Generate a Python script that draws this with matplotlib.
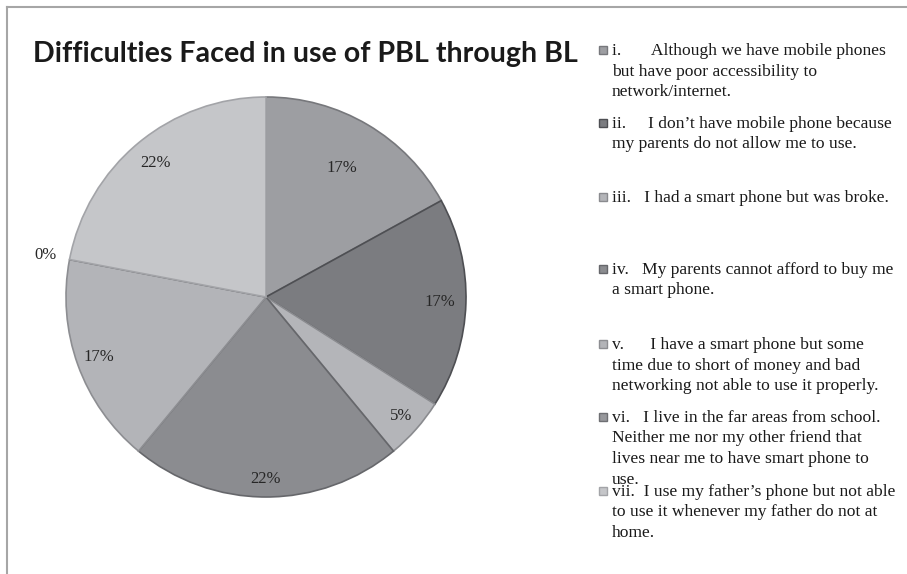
import numpy as np
import matplotlib
matplotlib.use('Agg')
import matplotlib.pyplot as plt
from matplotlib.patches import Rectangle
from matplotlib.lines import Line2D

title = 'Difficulties Faced in use of PBL through BL'

categories = [
    'i.       Although we have mobile phones\nbut have poor accessibility to\nnetwork/internet.',
    'ii.     I don\u2019t have mobile phone because\nmy parents do not allow me to use.',
    'iii.   I had a smart phone but was broke.',
    'iv.   My parents cannot afford to buy me\na smart phone.',
    'v.      I have a smart phone but some\ntime due to short of money and bad\nnetworking not able to use it properly.',
    'vi.   I live in the far areas from school.\nNeither me nor my other friend that\nlives near me to have smart phone to\nuse.',
    'vii.  I use my father\u2019s phone but not able\nto use it whenever my father do not at\nhome.',
]
values = [17, 17, 5, 22, 17, 0, 22]

colors = ['#9d9ea2', '#7b7c80', '#b4b5b9', '#8b8c90', '#b3b4b8', '#97989c', '#c5c6c9']
edges = ['#77787c', '#4e4f53', '#8a8b8f', '#66676b', '#8d8e92', '#6e6f73', '#a3a4a8']
label_r = [0.75, 0.87, 0.90, 0.91, 0.89, 1.12, 0.87]

W, H = 907, 574
fig = plt.figure(figsize=(W / 100, H / 100), dpi=100)
fig.patch.set_facecolor('white')

def fx(px):
    return px / W

def fy(py):
    return 1 - py / H

# pie area: center (266, 297), radius 200 px
ax = fig.add_axes([fx(66), fy(497), 400 / W, 400 / H])
wedges, _ = ax.pie(values, startangle=90, counterclock=False, colors=colors,
                   radius=1, wedgeprops=dict(linewidth=1.2))
for w, ec in zip(wedges, edges):
    w.set_edgecolor(ec)
ax.set_xlim(-1.0, 1.0)
ax.set_ylim(-1.0, 1.0)
ax.set_aspect('equal')
ax.axis('off')

for w, v, r in zip(wedges, values, label_r):
    ang = np.deg2rad((w.theta1 + w.theta2) / 2)
    ax.text(r * np.cos(ang), r * np.sin(ang), f'{v}%', ha='center', va='center',
            fontsize=12, family='Liberation Serif', color='#262626')

fig.text(fx(33), fy(62), title, ha='left', va='baseline', fontsize=20.6,
         fontweight='bold', family='Lato', color='#1a1a1a')

# legend, one text per line so the first line sits next to the marker
baselines = [55, 128, 202, 274, 349, 422, 496]
for lab, c, ec, b in zip(categories, colors, edges, baselines):
    fig.add_artist(Rectangle((fx(599), fy(b - 1)), 8 / W, 8 / H, transform=fig.transFigure,
                             facecolor=c, edgecolor=ec, linewidth=1))
    for k, line in enumerate(lab.split('\n')):
        fig.text(fx(612), fy(b + k * 20.5), line, ha='left', va='baseline', fontsize=12.6,
                 family='Liberation Serif', color='#1a1a1a')

# chart frame (partly cropped)
fig.add_artist(Line2D([fx(7), 1], [fy(7), fy(7)], transform=fig.transFigure,
                      color='#a6a6a6', linewidth=1.5))
fig.add_artist(Line2D([fx(7), fx(7)], [fy(7), 0], transform=fig.transFigure,
                      color='#a6a6a6', linewidth=1.5))

fig.savefig('out.png', dpi=100)
